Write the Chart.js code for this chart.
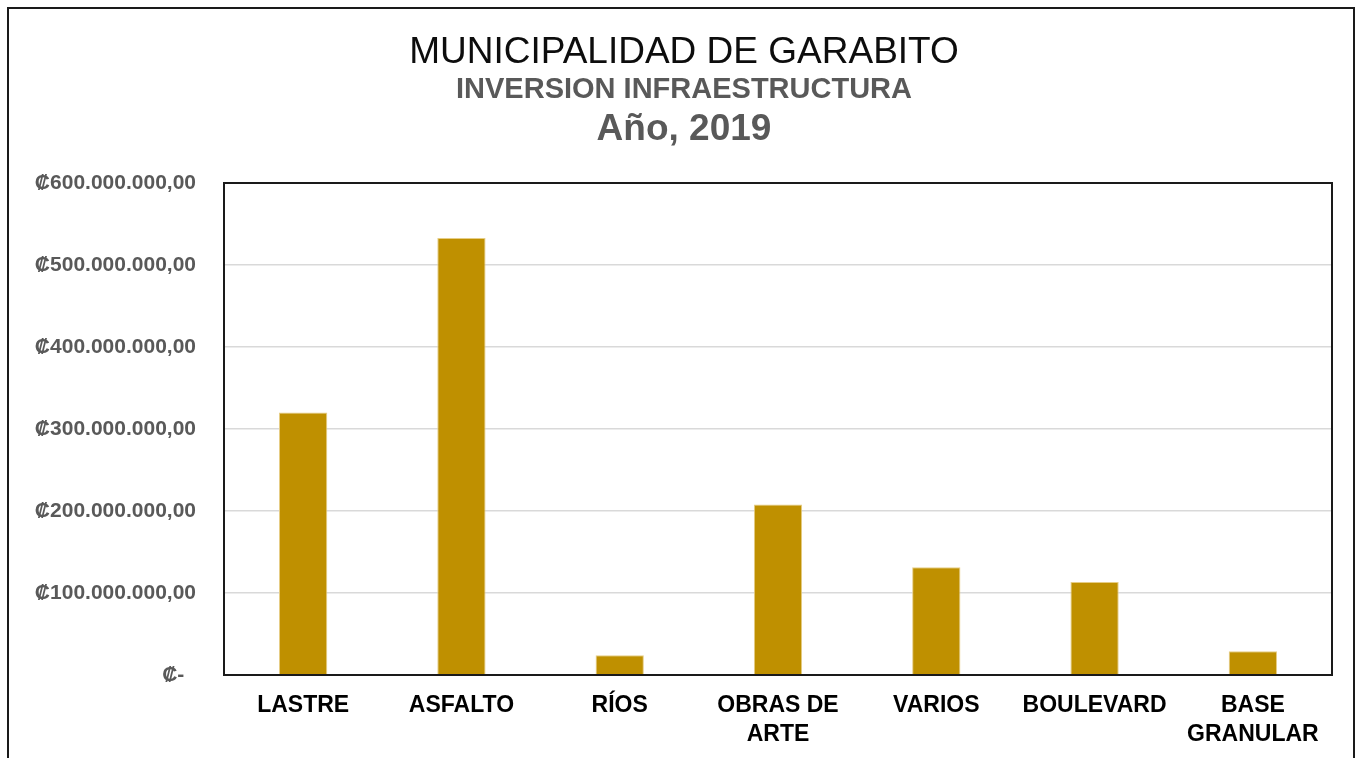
<!DOCTYPE html>
<html><head><meta charset="utf-8">
<script src="https://cdn.jsdelivr.net/npm/chart.js@4/dist/chart.umd.min.js"></script>
<style>
html,body{margin:0;padding:0;background:#fff;overflow:hidden;width:1364px;height:758px;}
#frame{position:absolute;left:7px;top:7px;width:1348px;height:800px;border:2px solid #1a1a1a;box-sizing:border-box;}
canvas{position:absolute;left:0;top:0;}
</style></head><body>
<div id="frame"></div>
<canvas id="c" width="1364" height="758"></canvas>
<script>
const categories = ["LASTRE", "ASFALTO", "RÍOS", ["OBRAS DE", "ARTE"], "VARIOS", "BOULEVARD", ["BASE", "GRANULAR"]];
const values = [320000000, 533000000, 24000000, 208000000, 131500000, 113500000, 29000000];
const yMin = 0, yMax = 600000000, yStep = 100000000;
const titleLines = ["MUNICIPALIDAD DE GARABITO", "INVERSION INFRAESTRUCTURA", "Año, 2019"];

function fmt(v){
  if (v === 0) return '₡-  ';
  return '₡' + Math.round(v).toString().replace(/\B(?=(\d{3})+(?!\d))/g, '.') + ',00';
}

const titlePlugin = {
  id: 'titles',
  afterDraw(chart){
    const ctx = chart.ctx; ctx.save();
    ctx.textAlign = 'center'; ctx.textBaseline = 'middle';
    const styles = [
      {font: '37px "Liberation Sans", Arial, sans-serif', color: '#0d0d0d', y: 53},
      {font: 'bold 29px "Liberation Sans", Arial, sans-serif', color: '#595959', y: 90},
      {font: 'bold 37px "Liberation Sans", Arial, sans-serif', color: '#595959', y: 130}
    ];
    titleLines.forEach((t, i) => {
      ctx.font = styles[i].font; ctx.fillStyle = styles[i].color;
      ctx.fillText(t, 684, styles[i].y);
    });
    ctx.restore();
  }
};
const borderPlugin = {
  id: 'plotBorder',
  afterDatasetsDraw(chart){
    const a = chart.chartArea, ctx = chart.ctx;
    ctx.save(); ctx.strokeStyle = '#1a1a1a'; ctx.lineWidth = 2;
    ctx.strokeRect(a.left, a.top, a.right - a.left, a.bottom - a.top);
    ctx.restore();
  }
};

new Chart(document.getElementById('c'), {
  type: 'bar',
  data: {
    labels: categories,
    datasets: [{
      data: values,
      backgroundColor: '#BF9000',
      borderColor: '#E6CD85',
      borderWidth: 1,
      categoryPercentage: 1,
      barPercentage: 0.305
    }]
  },
  options: {
    responsive: false,
    animation: false,
    devicePixelRatio: 1,
    layout: {padding: {top: 183, right: 32, left: 0, bottom: 0}},
    plugins: {legend: {display: false}, tooltip: {enabled: false}, title: {display: false}},
    scales: {
      x: {
        grid: {display: false, drawTicks: false},
        border: {display: false},
        ticks: {
          color: '#000', padding: 16, maxRotation: 0, autoSkip: false,
          font: {family: '"Liberation Sans", Arial, sans-serif', size: 23, weight: 'bold', lineHeight: 1.26}
        },
        afterFit(s){ s.height = 83; }
      },
      y: {
        min: yMin, max: yMax,
        grid: {color: '#D9D9D9', lineWidth: 1.5, drawTicks: false},
        border: {display: false},
        ticks: {
          stepSize: yStep, color: '#595959', padding: 28,
          font: {family: '"Liberation Sans", "DejaVu Sans", Arial, sans-serif', size: 21, weight: 'bold'},
          callback: (v) => fmt(v)
        },
        afterFit(s){ s.width = 224; }
      }
    }
  },
  plugins: [titlePlugin, borderPlugin]
});
</script>
</body></html>
